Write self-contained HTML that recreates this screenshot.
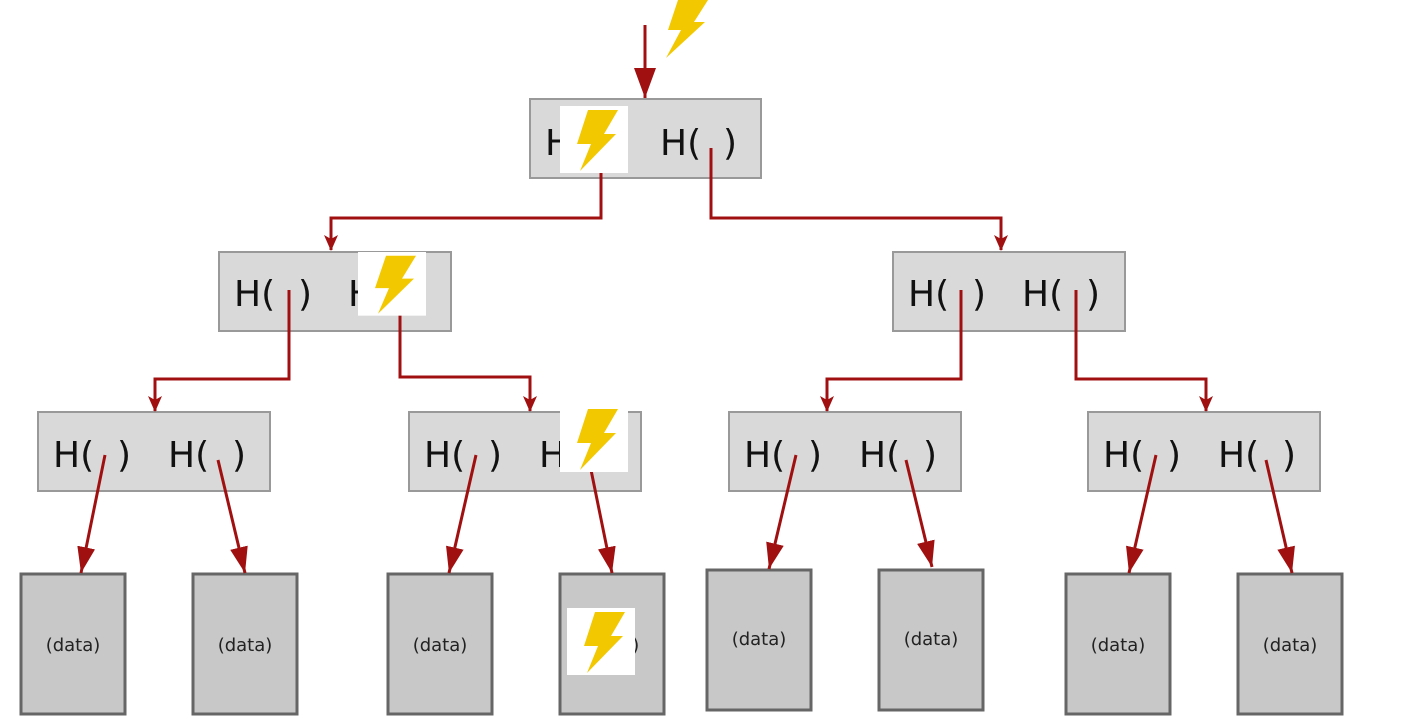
<!DOCTYPE html>
<html><head><meta charset="utf-8"><style>
html,body{margin:0;padding:0;background:#fff;width:1420px;height:724px;overflow:hidden}
svg{display:block}
.h{font-family:"DejaVu Sans","Liberation Sans",sans-serif;font-size:36px;fill:#111}
.d{font-family:"DejaVu Sans","Liberation Sans",sans-serif;font-size:18px;fill:#222;text-anchor:middle}
.ln{stroke:#a01010;stroke-width:3;fill:none}
</style></head><body>
<svg width="1420" height="724" viewBox="0 0 1420 724" xmlns="http://www.w3.org/2000/svg">
<defs>
<marker id="a" markerWidth="16" markerHeight="14" refX="15" refY="7" orient="auto" markerUnits="userSpaceOnUse" viewBox="0 0 16 14">
<path d="M0,0 L16,7 L0,14 L4,7 z" fill="#a01010"/></marker>
<marker id="c" markerWidth="26" markerHeight="18" refX="26" refY="9" orient="auto" markerUnits="userSpaceOnUse" viewBox="0 0 26 18">
<path d="M0,0 L26,9 L0,18 z" fill="#a01010"/></marker>
<marker id="t" markerWidth="30" markerHeight="22" refX="30" refY="11" orient="auto" markerUnits="userSpaceOnUse" viewBox="0 0 30 22">
<path d="M0,0 L30,11 L0,22 z" fill="#a01010"/></marker>
<g id="bolt"><rect x="0" y="0" width="68" height="67" fill="#fff"/>
<polygon points="28,4 58,4 44,28 56,28 20,65 31,38 17,38" fill="#f2c800"/></g>
</defs>

<g fill="#d9d9d9" stroke="#999" stroke-width="2">
<rect x="530" y="99" width="231" height="79"/>
<rect x="219" y="252" width="232" height="79"/>
<rect x="893" y="252" width="232" height="79"/>
<rect x="38" y="412" width="232" height="79"/>
<rect x="409" y="412" width="232" height="79"/>
<rect x="729" y="412" width="232" height="79"/>
<rect x="1088" y="412" width="232" height="79"/>
</g>
<g fill="#c8c8c8" stroke="#666" stroke-width="3">
<rect x="21" y="574" width="104" height="140"/>
<rect x="193" y="574" width="104" height="140"/>
<rect x="388" y="574" width="104" height="140"/>
<rect x="560" y="574" width="104" height="140"/>
<rect x="707" y="570" width="104" height="140"/>
<rect x="879" y="570" width="104" height="140"/>
<rect x="1066" y="574" width="104" height="140"/>
<rect x="1238" y="574" width="104" height="140"/>
</g>

<g class="h">
<text x="545" y="155">H(</text><text x="660" y="155">H(</text><text x="723" y="155">)</text>
<text x="234" y="306">H(</text><text x="298" y="306">)</text><text x="348" y="306">H(</text>
<text x="908" y="306">H(</text><text x="972" y="306">)</text><text x="1022" y="306">H(</text><text x="1086" y="306">)</text>
<text x="53" y="467">H(</text><text x="117" y="467">)</text><text x="168" y="467">H(</text><text x="232" y="467">)</text>
<text x="424" y="467">H(</text><text x="488" y="467">)</text><text x="539" y="467">H(</text><text x="603" y="467">)</text>
<text x="744" y="467">H(</text><text x="808" y="467">)</text><text x="859" y="467">H(</text><text x="923" y="467">)</text>
<text x="1103" y="467">H(</text><text x="1167" y="467">)</text><text x="1218" y="467">H(</text><text x="1282" y="467">)</text>
</g>
<g class="d">
<text x="73" y="651">(data)</text><text x="245" y="651">(data)</text>
<text x="440" y="651">(data)</text><text x="612" y="651">(data)</text>
<text x="759" y="645">(data)</text><text x="931" y="645">(data)</text>
<text x="1118" y="651">(data)</text><text x="1290" y="651">(data)</text>
</g>

<line x1="645" y1="25" x2="645" y2="98" class="ln" marker-end="url(#t)"/>
<polyline class="ln" points="601,172 601,218 331,218 331,250" marker-end="url(#a)"/>
<polyline class="ln" points="711,148 711,218 1001,218 1001,250" marker-end="url(#a)"/>
<polyline class="ln" points="289,290 289,379 155,379 155,411" marker-end="url(#a)"/>
<polyline class="ln" points="400,312 400,377 530,377 530,411" marker-end="url(#a)"/>
<polyline class="ln" points="961,290 961,379 827,379 827,411" marker-end="url(#a)"/>
<polyline class="ln" points="1076,290 1076,379 1206,379 1206,411" marker-end="url(#a)"/>
<g class="ln">
<line x1="105" y1="455" x2="81" y2="573" marker-end="url(#c)"/>
<line x1="218" y1="460" x2="245" y2="573" marker-end="url(#c)"/>
<line x1="476" y1="455" x2="449" y2="573" marker-end="url(#c)"/>
<line x1="590" y1="465" x2="612" y2="573" marker-end="url(#c)"/>
<line x1="796" y1="455" x2="769" y2="569" marker-end="url(#c)"/>
<line x1="906" y1="460" x2="932" y2="567" marker-end="url(#c)"/>
<line x1="1156" y1="455" x2="1129" y2="573" marker-end="url(#c)"/>
<line x1="1266" y1="460" x2="1292" y2="573" marker-end="url(#c)"/>
</g>

<use href="#bolt" transform="translate(560,106)"/>
<use href="#bolt" transform="translate(358,252) scale(1,0.95)"/>
<use href="#bolt" transform="translate(560,405)"/>
<use href="#bolt" transform="translate(567,608)"/>
<polygon points="678,0 708,0 694,22 705,22 666,58 681,30 668,30" fill="#f2c800"/>
</svg>
</body></html>
